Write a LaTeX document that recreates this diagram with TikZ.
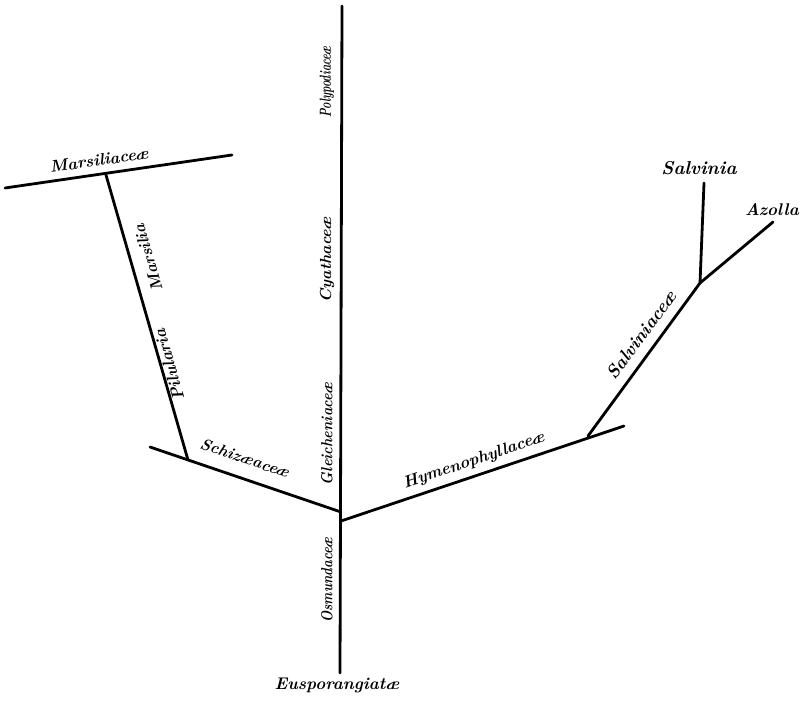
\documentclass[tikz,border=0pt]{standalone}
\usepackage{graphicx}
\begin{document}
\begin{tikzpicture}[x=0.75pt,y=-0.75pt,
  branch/.style={line width=2.1pt,line cap=round},
  lab/.style={inner sep=0pt},
  fs/.style={font=\fontsize{#1}{#1}\selectfont\bfseries\itshape}]
\useasboundingbox (0,0) rectangle (802,705);
% coordinates
\coordinate (top) at (342,6);
\coordinate (bot) at (340,673);
\coordinate (jl) at (341,512);
\coordinate (jr) at (341,521);
\coordinate (schL) at (150,447);
\coordinate (pilB) at (188,460);
\coordinate (marJ) at (106,175);
\coordinate (marL) at (5,188);
\coordinate (marR) at (232,155);
\coordinate (hymR) at (624,426);
\coordinate (salB) at (588,436);
\coordinate (salJ) at (700,283);
\coordinate (salT) at (704,183);
\coordinate (azoT) at (773,222);
% branches
\draw[branch] (top) -- (bot);
\draw[branch] (schL) -- (jl);
\draw[branch] (pilB) -- (marJ);
\draw[branch] (marL) -- (marR);
\draw[branch] (jr) -- (hymR);
\draw[branch] (salB) -- (salJ);
\draw[branch] (salJ) -- (salT);
\draw[branch] (salJ) -- (azoT);
% labels
\node[lab,fs=12.4,rotate=8.3] (tmarsiliaceae) at (99,160) {Marsiliace\ae};
\node[lab,fs=12.2,rotate=106] (tmarsilia) at (148,258) {Marsilia};
\node[lab,fs=12.6,rotate=106] (tpilularia) at (169,365) {Pilularia};
\node[lab,fs=12,rotate=-18.8] (tschizaeaceae) at (245,458) {Schiz\ae ace\ae};
\node[lab,fs=12,rotate=90] (tpolypodiaceae) at (327,82) {\scalebox{0.68}[1]{Polypodiace\ae}};
\node[lab,fs=12,rotate=90] (tcyathaceae) at (327,260) {Cyathace\ae};
\node[lab,fs=12,rotate=90] (tgleicheniaceae) at (327,434) {\scalebox{0.9}[1]{Gleicheniace\ae}};
\node[lab,fs=12,rotate=90] (tosmundaceae) at (327,580) {\scalebox{0.82}[1]{Osmundace\ae}};
\node[lab,fs=12.7] (teusporangiatae) at (337,685) {Eusporangiat\ae};
\node[lab,fs=12.4,rotate=18.7] (thymenophyllaceae) at (474,461) {Hymenophyllace\ae};
\node[lab,fs=13.6,rotate=53.6] (tsalviniaceae) at (641,335) {Salviniace\ae};
\node[lab,fs=14] (tsalvinia) at (699,168) {Salvinia};
\node[lab,fs=12.7] (tazolla) at (772,210) {Azolla};
\end{tikzpicture}
\end{document}
